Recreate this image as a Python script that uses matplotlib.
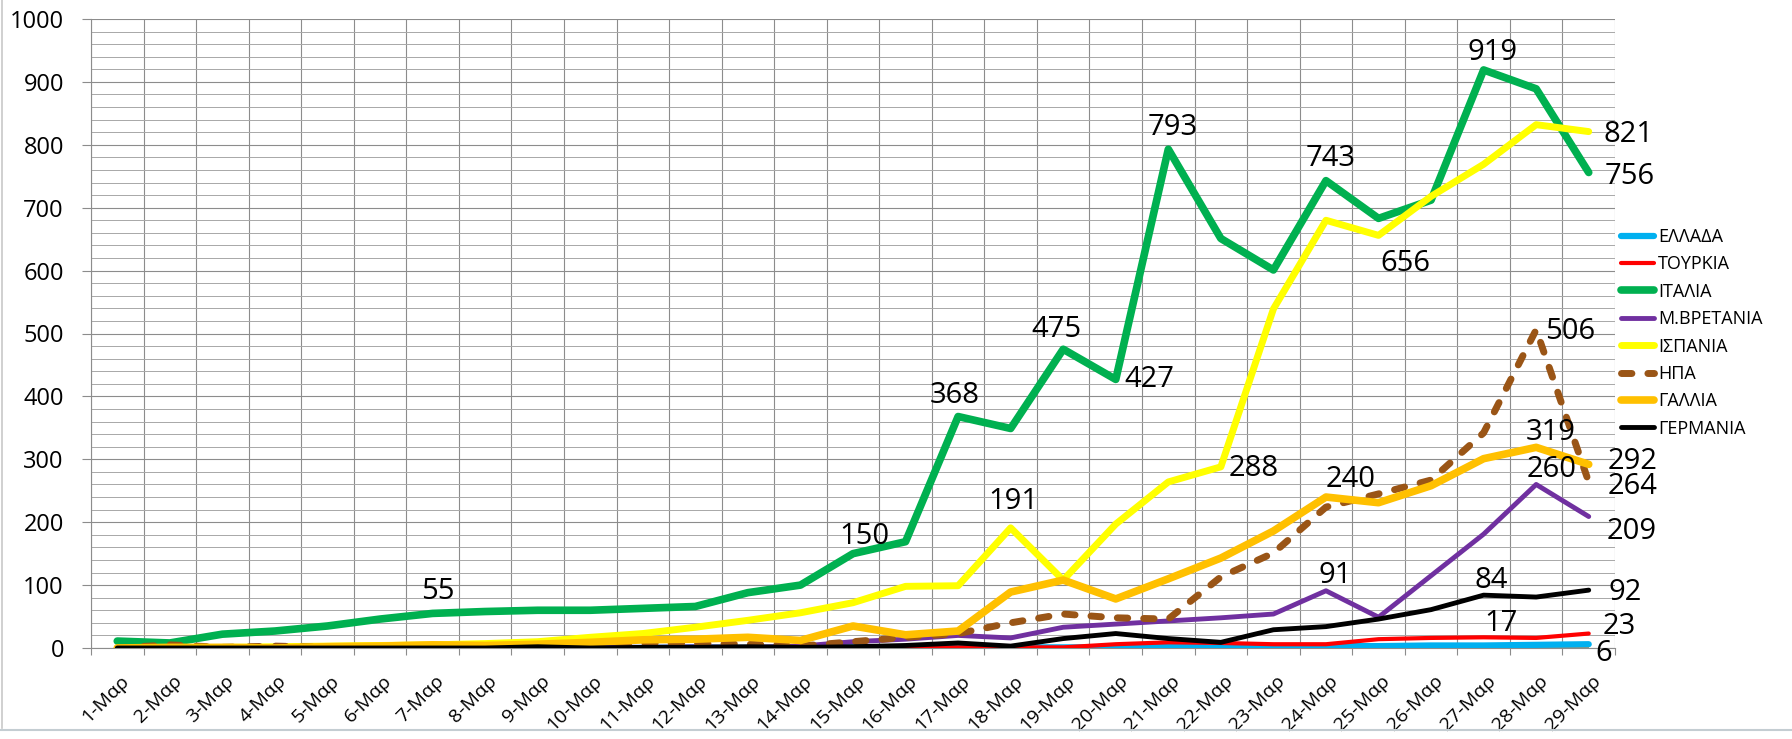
import numpy as np
import matplotlib
matplotlib.use('Agg')
import matplotlib.pyplot as plt
from matplotlib.ticker import MultipleLocator, FixedLocator
from matplotlib.transforms import ScaledTranslation
from matplotlib.lines import Line2D

plt.rcParams['font.family'] = ['Open Sans', 'DejaVu Sans']

# ---------------- data ----------------
DAYS = ['1-Μαρ', '2-Μαρ', '3-Μαρ', '4-Μαρ', '5-Μαρ', '6-Μαρ', '7-Μαρ', '8-Μαρ', '9-Μαρ', '10-Μαρ',
        '11-Μαρ', '12-Μαρ', '13-Μαρ', '14-Μαρ', '15-Μαρ', '16-Μαρ', '17-Μαρ', '18-Μαρ', '19-Μαρ', '20-Μαρ',
        '21-Μαρ', '22-Μαρ', '23-Μαρ', '24-Μαρ', '25-Μαρ', '26-Μαρ', '27-Μαρ', '28-Μαρ', '29-Μαρ']

GREECE  = [0, 0, 0, 0, 0, 0, 0, 0, 0, 0, 0, 1, 0, 1, 1, 0, 1, 1, 1, 1, 2, 2, 3, 3, 3, 4, 4, 5, 6]
TURKEY  = [0, 0, 0, 0, 0, 0, 0, 0, 0, 0, 0, 0, 0, 0, 0, 0, 1, 1, 1, 6, 9, 8, 6, 6, 14, 16, 17, 16, 23]
ITALY   = [11, 8, 22, 27, 35, 46, 55, 58, 60, 60, 63, 66, 88, 100, 150, 169, 368, 349, 475, 427,
           793, 651, 601, 743, 683, 712, 919, 889, 756]
UK      = [0, 0, 0, 0, 1, 0, 1, 0, 1, 2, 1, 2, 1, 3, 10, 14, 20, 16, 33, 38, 43, 48, 54, 91, 49,
           115, 181, 260, 209]
SPAIN   = [0, 0, 1, 2, 3, 4, 5, 7, 10, 17, 23, 33, 44, 56, 72, 98, 99, 191, 108, 197, 264, 288,
           539, 680, 656, 718, 769, 832, 821]
USA     = [0, 5, 1, 3, 1, 2, 0, 2, 4, 6, 8, 7, 6, 3, 10, 17, 23, 40, 54, 48, 46, 113, 151, 224,
           245, 267, 342, 506, 264]
FRANCE  = [0, 1, 1, 0, 2, 3, 5, 4, 6, 9, 13, 14, 17, 12, 35, 21, 27, 89, 108, 78, 110, 143, 186,
           240, 231, 258, 301, 319, 292]
GERMANY = [0, 0, 0, 0, 0, 0, 0, 0, 2, 0, 1, 1, 2, 1, 2, 4, 8, 3, 15, 23, 15, 9, 29, 34, 46, 61,
           84, 81, 92]

NAMES = ['ΕΛΛΑΔΑ', 'ΤΟΥΡΚΙΑ', 'ΙΤΑΛΙΑ', 'Μ.ΒΡΕΤΑΝΙΑ', 'ΙΣΠΑΝΙΑ', 'ΗΠΑ', 'ΓΑΛΛΙΑ', 'ΓΕΡΜΑΝΙΑ']
SERIES = [GREECE, TURKEY, ITALY, UK, SPAIN, USA, FRANCE, GERMANY]

# ---------------- styles ----------------
COLORS = ['#00B0F0', '#FF0000', '#00B050', '#7030A0', '#FFFF00', '#9A5516', '#FFC000', '#000000']
WIDTHS = [4.5, 3.0, 5.5, 3.5, 5.0, 5.0, 5.5, 3.5]
DASHED = [False, False, False, False, False, True, False, False]

W_PX, H_PX = 1792, 739
fig = plt.figure(figsize=(W_PX / 100, H_PX / 100), dpi=100)
fig.patch.set_facecolor('white')

L, R, T, B = 91, 1615, 19, 648
ax = fig.add_axes([L / W_PX, 1 - B / H_PX, (R - L) / W_PX, (B - T) / H_PX])

x = np.arange(len(DAYS))
ax.set_xlim(-0.5, len(DAYS) - 0.5)
ax.set_ylim(0, 1000)

GRID_MAJ = '#8C8C8C'
GRID_MIN = '#A8A8A8'
ax.yaxis.set_major_locator(MultipleLocator(100))
ax.yaxis.set_minor_locator(MultipleLocator(20))
ax.xaxis.set_major_locator(FixedLocator(x))
ax.xaxis.set_minor_locator(FixedLocator(np.arange(len(DAYS) + 1) - 0.5))
ax.grid(which='major', axis='y', color=GRID_MAJ, lw=0.8)
ax.grid(which='minor', axis='y', color=GRID_MIN, lw=0.7)
ax.grid(which='minor', axis='x', color=GRID_MAJ, lw=0.8)
ax.set_axisbelow(True)

for s in ['top', 'right']:
    ax.spines[s].set_visible(False)
for s in ['left', 'bottom']:
    ax.spines[s].set_color(GRID_MAJ)
    ax.spines[s].set_linewidth(0.8)

ax.tick_params(axis='y', which='major', length=6.5, width=0.8, color=GRID_MAJ,
               labelsize=17, pad=13)
ax.tick_params(axis='y', which='minor', length=0)
ax.tick_params(axis='x', which='major', length=0, labelsize=14, pad=22)
ax.tick_params(axis='x', which='minor', length=5, width=0.8, color=GRID_MAJ)
ax.set_xticklabels(DAYS, rotation=45, ha='right', va='center', rotation_mode='anchor')
off = ScaledTranslation(9 / 100, 0, fig.dpi_scale_trans)
for lab in ax.get_xticklabels():
    lab.set_transform(lab.get_transform() + off)

# faint zero line under the series
ax.plot(x, np.zeros(len(x)), color='#C98A50', lw=1.5, zorder=2, solid_capstyle='butt')

handles = []
for i, (name, vals) in enumerate(zip(NAMES, SERIES)):
    kw = dict(color=COLORS[i], lw=WIDTHS[i], zorder=3 + i, label=name,
              solid_joinstyle='round', solid_capstyle='round')
    if DASHED[i]:
        kw.update(linestyle=(0, (1.5, 2.3)), dash_capstyle='round', dash_joinstyle='round')
    ln, = ax.plot(x, vals, **kw)
    handles.append(ln)

# ---------------- data labels ----------------
S = dict(zip(NAMES, SERIES))
LABELS = [  # series, day index, dx px, dy px (label centre relative to point)
    ('ΙΤΑΛΙΑ', 6, 5, -22), ('ΙΤΑΛΙΑ', 14, 11, -17), ('ΙΤΑΛΙΑ', 16, -3, -21),
    ('ΙΣΠΑΝΙΑ', 17, 3, -26), ('ΙΤΑΛΙΑ', 18, -7, -20), ('ΙΤΑΛΙΑ', 19, 34, 0),
    ('ΙΤΑΛΙΑ', 20, 4, -22), ('ΙΣΠΑΝΙΑ', 21, 33, 2), ('ΙΤΑΛΙΑ', 23, 5, -22),
    ('ΙΣΠΑΝΙΑ', 24, 27, 28), ('ΓΑΛΛΙΑ', 23, 25, -18), ('Μ.ΒΡΕΤΑΝΙΑ', 23, 9, -15),
    ('ΙΤΑΛΙΑ', 26, 9, -17), ('ΗΠΑ', 27, 34, 2), ('ΓΑΛΛΙΑ', 27, 15, -15),
    ('Μ.ΒΡΕΤΑΝΙΑ', 27, 15, -15), ('ΓΕΡΜΑΝΙΑ', 26, 8, -15), ('ΤΟΥΡΚΙΑ', 26, 17, -14),
    ('ΙΣΠΑΝΙΑ', 28, 40, 3), ('ΙΤΑΛΙΑ', 28, 41, 4), ('ΓΑΛΛΙΑ', 28, 44, -3),
    ('ΗΠΑ', 28, 44, 5), ('Μ.ΒΡΕΤΑΝΙΑ', 28, 43, 15), ('ΓΕΡΜΑΝΙΑ', 28, 36, 2),
    ('ΤΟΥΡΚΙΑ', 28, 31, -7), ('ΕΛΛΑΔΑ', 28, 15, 9),
]
for name, idx, dx, dy in LABELS:
    v = S[name][idx]
    ax.annotate(str(v), (x[idx], v), xytext=(dx * 0.72, -dy * 0.72), textcoords='offset points',
                ha='center', va='center', fontsize=21, color='black', zorder=20,
                annotation_clip=False)

# ---------------- legend ----------------
leg = fig.legend(handles=handles, loc='upper left',
                 bbox_to_anchor=(1621 / W_PX, 1 - 228 / H_PX),
                 frameon=False, fontsize=13, handlelength=1.85, handletextpad=0.2,
                 labelspacing=0.52, borderpad=0, borderaxespad=0)

# ---------------- chart-area decorations ----------------
fig.add_artist(Line2D([2 / W_PX, 2 / W_PX], [1 - 728 / H_PX, 1], transform=fig.transFigure,
                      color='#C8C8C8', lw=1.2))
fig.add_artist(Line2D([0, 1], [1 - 730 / H_PX, 1 - 730 / H_PX], transform=fig.transFigure,
                      color='#C4CDD2', lw=1.5))

fig.savefig('out.png', dpi=100, facecolor='white')
